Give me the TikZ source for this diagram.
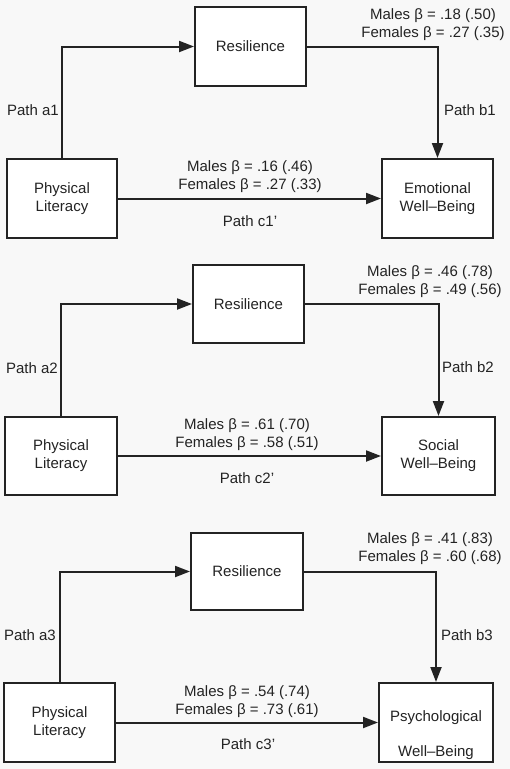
\documentclass[tikz,border=0pt]{standalone}
\usepackage{fontspec}
\setmainfont{Liberation Sans}
\usetikzlibrary{arrows.meta}
\definecolor{bg}{RGB}{248,248,248}
\definecolor{ink}{RGB}{35,35,35}
\begin{document}
\begin{tikzpicture}[x=1pt,y=-1pt,
  every node/.style={font=\fontsize{15}{18}\selectfont, text=ink},
  box/.style={draw=ink, line width=2pt, fill=white, inner sep=0pt},
  conn/.style={draw=ink, line width=2pt, -{Triangle[length=15pt,width=11pt]}},
  lab/.style={align=center, inner sep=0pt},
]
\fill[bg] (0,0) rectangle (510,769);
\useasboundingbox (0,0) rectangle (510,769);

% ---------- Panel 1 ----------
\node[box, minimum width=111, minimum height=79, align=center] (res1) at (250.5,46.5) {Resilience};
\node[box, minimum width=110, minimum height=79, align=center] (pl1) at (62,198.5) {Physical\\Literacy};
\node[box, minimum width=111, minimum height=79, align=center] (ewb) at (437.5,198.5) {Emotional\\Well–Being};
\draw[conn] (pl1.north) |- (res1.west);
\draw[conn] (res1.east) -| (ewb.north);
\draw[conn] (pl1.east) -- (ewb.west);
\node[lab] (b1v) at (433,25) {Males β = .18 (.50)\\Females β = .27 (.35)};
\node[lab] (c1v) at (250,176.5) {Males β = .16 (.46)\\Females β = .27 (.33)};
\node[lab] (a1) at (33,110) {Path a1};
\node[lab] (b1) at (470,110) {Path b1};
\node[lab] (c1) at (250,221) {Path c1'};

% ---------- Panel 2 ----------
\node[box, minimum width=111, minimum height=78, align=center] (res2) at (248.5,304) {Resilience};
\node[box, minimum width=112, minimum height=78, align=center] (pl2) at (61,456) {Physical\\Literacy};
\node[box, minimum width=113, minimum height=78, align=center] (swb) at (438.5,456) {Social\\Well–Being};
\draw[conn] (pl2.north) |- (res2.west);
\draw[conn] (res2.east) -| (swb.north);
\draw[conn] (pl2.east) -- (swb.west);
\node[lab] (b2v) at (430,281.5) {Males β = .46 (.78)\\Females β = .49 (.56)};
\node[lab] (c2v) at (247,434.5) {Males β = .61 (.70)\\Females β = .58 (.51)};
\node[lab] (a2) at (32,368) {Path a2};
\node[lab] (b2) at (468,367) {Path b2};
\node[lab] (c2) at (247,478) {Path c2'};

% ---------- Panel 3 ----------
\node[box, minimum width=112, minimum height=77, align=center] (res3) at (247,571.5) {Resilience};
\node[box, minimum width=111, minimum height=79, align=center] (pl3) at (59.5,722.5) {Physical\\Literacy};
\node[box, minimum width=114, minimum height=79] (pwb) at (436,722.5) {};
\node[lab] (pwbt) at (436,735.5) {Psychological\\[17pt]Well–Being};
\draw[conn] (pl3.north) |- (res3.west);
\draw[conn] (res3.east) -| (pwb.north);
\draw[conn] (pl3.east) -- (pwb.west);
\node[lab] (b3v) at (430,549) {Males β = .41 (.83)\\Females β = .60 (.68)};
\node[lab] (c3v) at (247,702) {Males β = .54 (.74)\\Females β = .73 (.61)};
\node[lab] (a3) at (30,635) {Path a3};
\node[lab] (b3) at (467,635) {Path b3};
\node[lab] (c3) at (248,744) {Path c3'};
\end{tikzpicture}
\end{document}
